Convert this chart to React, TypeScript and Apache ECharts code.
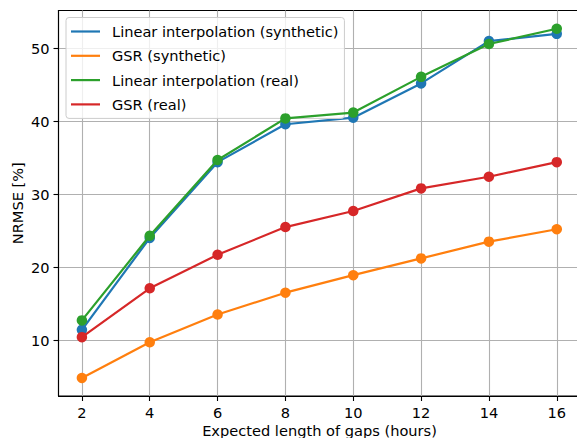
import React, { useEffect, useRef } from "react";
import * as echarts from "echarts";

const gapHours = [2, 4, 6, 8, 10, 12, 14, 16];
const linearSynthetic = [11.4, 24.0, 34.4, 39.6, 40.5, 45.2, 51.0, 52.0];
const gsrSynthetic = [4.8, 9.7, 13.5, 16.5, 18.9, 21.2, 23.5, 25.2];
const linearReal = [12.7, 24.3, 34.7, 40.4, 41.2, 46.1, 50.6, 52.7];
const gsrReal = [10.4, 17.1, 21.7, 25.5, 27.7, 30.8, 32.4, 34.4];
const xTicks = [2, 4, 6, 8, 10, 12, 14, 16];
const yTicks = [10, 20, 30, 40, 50];

const seriesNames = [
  "Linear interpolation (synthetic)",
  "GSR (synthetic)",
  "Linear interpolation (real)",
  "GSR (real)",
];
const seriesColors = ["#1f77b4", "#ff7f0e", "#2ca02c", "#d62728"];
const seriesValues = [linearSynthetic, gsrSynthetic, linearReal, gsrReal];

const FONT = "DejaVu Sans";
const FS = 14.6;

export default function App() {
  const ref = useRef<HTMLDivElement>(null);
  useEffect(() => {
    if (!ref.current) return;
    const chart = echarts.init(ref.current, undefined, { renderer: "svg" });
    chart.setOption({
      animation: false,
      backgroundColor: "#fff",
      textStyle: { fontFamily: FONT },
      grid: {
        left: 58.5,
        top: 10.5,
        width: 522,
        height: 385.5,
        containLabel: false,
        outerBoundsMode: "none",
        show: true,
        borderColor: "#000",
        borderWidth: 1.1,
        backgroundColor: "transparent",
      },
      legend: {
        orient: "vertical",
        left: 66,
        top: 17.5,
        padding: [5.5, 6, 5.5, 5],
        itemGap: 7.3,
        itemWidth: 29,
        itemHeight: 2.2,
        icon: "rect",
        backgroundColor: "rgba(255,255,255,0.8)",
        borderColor: "#cccccc",
        borderWidth: 1,
        borderRadius: 3,
        textStyle: {
          fontFamily: FONT,
          fontSize: FS,
          lineHeight: 17,
          color: "#000",
          padding: [0, 0, 0, 7],
        },
        data: seriesNames.map((n, i) => ({ name: n, itemStyle: { color: seriesColors[i] } })),
      },
      xAxis: {
        type: "value",
        min: 1.31,
        max: 16.7,
        name: "Expected length of gaps (hours)",
        nameLocation: "middle",
        nameGap: 27,
        nameMoveOverlap: false,
        nameTextStyle: { fontFamily: FONT, fontSize: FS, color: "#000" },
        axisLine: { show: true, lineStyle: { color: "#000", width: 1.1 } },
        axisTick: { show: true, length: 5, lineStyle: { color: "#000", width: 1.1 }, customValues: xTicks },
        axisLabel: { fontFamily: FONT, fontSize: FS, color: "#000", margin: 9, customValues: xTicks },
        splitLine: { show: true, lineStyle: { color: "#b0b0b0", width: 1.1 } },
      },
      yAxis: {
        type: "value",
        min: 2.33,
        max: 55.2,
        name: "NRMSE [%]",
        nameLocation: "middle",
        nameGap: 34,
        nameRotate: 90,
        nameMoveOverlap: false,
        nameTextStyle: { fontFamily: FONT, fontSize: FS, color: "#000" },
        axisLine: { show: true, lineStyle: { color: "#000", width: 1.1 } },
        axisTick: { show: true, length: 5, lineStyle: { color: "#000", width: 1.1 }, customValues: yTicks },
        axisLabel: { fontFamily: FONT, fontSize: FS, color: "#000", margin: 9, customValues: yTicks },
        splitLine: { show: true, lineStyle: { color: "#b0b0b0", width: 1.1 } },
      },
      series: seriesNames.map((name, i) => ({
        name,
        type: "line",
        data: gapHours.map((x, j) => [x, seriesValues[i][j]]),
        symbol: "circle",
        symbolSize: 10.5,
        showAllSymbol: true,
        lineStyle: { color: seriesColors[i], width: 2.2 },
        itemStyle: { color: seriesColors[i] },
        z: 2 + i,
      })),
    });
    return () => chart.dispose();
  }, []);
  return (
    <div
      ref={ref}
      style={{ position: "absolute", left: 0, top: 0, width: 577, height: 438, overflow: "hidden" }}
    />
  );
}
